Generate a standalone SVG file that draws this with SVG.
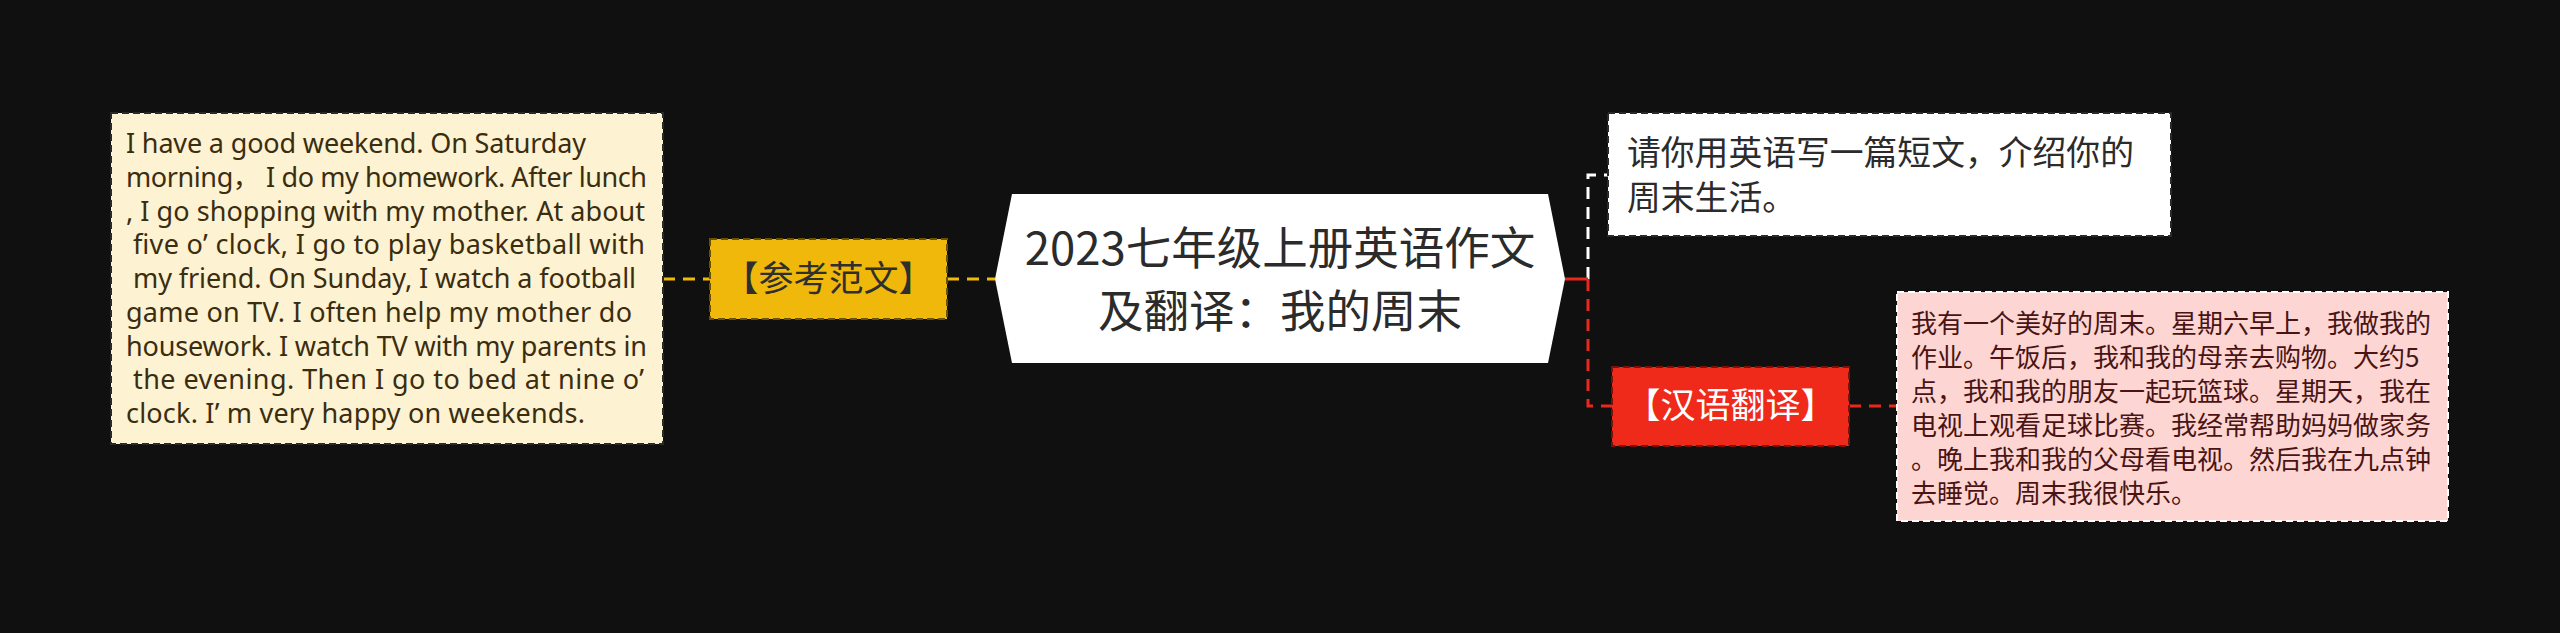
<svg xmlns="http://www.w3.org/2000/svg" width="2560" height="633" viewBox="0 0 2560 633">
<style>
.cjk{font-family:"Noto Sans CJK SC","Noto Sans",sans-serif}
.en{font-family:"Noto Sans","Noto Sans CJK SC",sans-serif}
.conn{fill:none;stroke-width:3;stroke-dasharray:12 8}
.box{stroke-width:2;stroke-dasharray:7 4}
</style>
<rect x="0" y="0" width="2560" height="633" fill="#101010"/>
<g id="connectors">
<path class="conn" d="M663 279 H710 M947 279 H995" stroke="#f0b90b"/>
<path class="conn" d="M1588 279 V175 H1608" stroke="#ffffff"/>
<path class="conn" d="M1588 279 V406 H1612 M1849 406 H1897" stroke="#e8281c"/>
<path d="M1565 279 H1588" stroke="#e8281c" stroke-width="3" fill="none"/>
</g>
<g id="root">
<polygon points="995,279 1012,194 1548,194 1565,279 1548,363 1012,363" fill="#ffffff"/>
<text class="cjk" font-size="45.5" fill="#2b2b2b" text-anchor="middle"><tspan x="1280" y="265">2023七年级上册英语作文</tspan><tspan x="1280" y="328">及翻译：我的周末</tspan></text>
</g>
<g id="label-ref">
<rect class="box" x="710" y="239" width="237" height="80" fill="#efb80b" stroke="#6b5200"/>
<text class="cjk" font-size="35" fill="#2f2f2f" text-anchor="middle" x="828.5" y="291">【参考范文】</text>
</g>
<g id="essay">
<rect class="box" x="111" y="113" width="552" height="331" fill="#fdf2d2" stroke="#2a2a2a"/>
<text class="en" font-size="27" fill="#3a2d10" lengthAdjust="spacingAndGlyphs">
<tspan x="126" y="153" textLength="460">I have a good weekend. On Saturday</tspan>
<tspan x="126" y="186.75" textLength="521">morning， I do my homework. After lunch</tspan>
<tspan x="126" y="220.5" textLength="519">, I go shopping with my mother. At about</tspan>
<tspan x="133" y="254.25" textLength="512">five o’ clock, I go to play basketball with</tspan>
<tspan x="133" y="288" textLength="503">my friend. On Sunday, I watch a football</tspan>
<tspan x="126" y="321.75" textLength="506">game on TV. I often help my mother do</tspan>
<tspan x="126" y="355.5" textLength="521">housework. I watch TV with my parents in</tspan>
<tspan x="133" y="389.25" textLength="511">the evening. Then I go to bed at nine o’</tspan>
<tspan x="126" y="423" textLength="459">clock. I’ m very happy on weekends.</tspan>
</text>
</g>
<g id="task">
<rect class="box" x="1608" y="113" width="563" height="123" fill="#ffffff" stroke="#2a2a2a"/>
<text class="cjk" font-size="33.8" fill="#2b2b2b"><tspan x="1627" y="165">请你用英语写一篇短文，介绍你的</tspan><tspan x="1627" y="210">周末生活。</tspan></text>
</g>
<g id="label-trans">
<rect class="box" x="1612" y="367" width="237" height="79" fill="#ef2a1a" stroke="#7a1208"/>
<text class="cjk" font-size="35" fill="#ffffff" text-anchor="middle" x="1730.5" y="418">【汉语翻译】</text>
</g>
<g id="translation">
<rect class="box" x="1897" y="292" width="551" height="229" fill="#fdd6d3" stroke="#ffffff"/>
<text class="cjk" font-size="26" fill="#4a1414">
<tspan x="1911" y="333">我有一个美好的周末。星期六早上，我做我的</tspan>
<tspan x="1911" y="367">作业。午饭后，我和我的母亲去购物。大约5</tspan>
<tspan x="1911" y="401">点，我和我的朋友一起玩篮球。星期天，我在</tspan>
<tspan x="1911" y="435">电视上观看足球比赛。我经常帮助妈妈做家务</tspan>
<tspan x="1911" y="469">。晚上我和我的父母看电视。然后我在九点钟</tspan>
<tspan x="1911" y="503">去睡觉。周末我很快乐。</tspan>
</text>
</g>
</svg>
